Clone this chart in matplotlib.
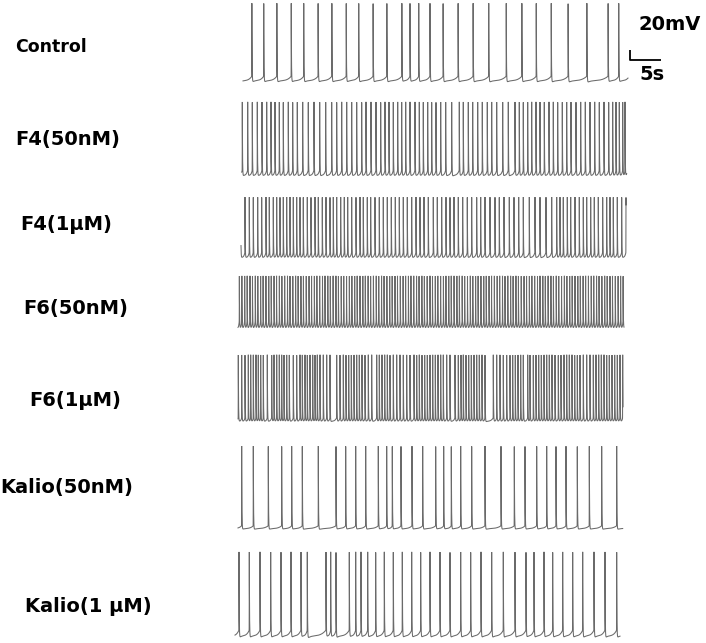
import numpy as np
import matplotlib
matplotlib.use("Agg")
import matplotlib.pyplot as plt

# ---------------- data (spike times in seconds) ----------------
labels = ["Control", "F4(50nM)", "F4(1\u03bcM)", "F6(50nM)", "F6(1\u03bcM)",
          "Kalio(50nM)", "Kalio(1 \u03bcM)"]

spikes_control = [1.9, 3.8, 5.9, 8.2, 10.2, 12.5, 14.7, 17.0, 19.0, 21.3, 23.5, 25.9,
                  27.2, 28.6, 30.4, 32.5, 34.9, 37.3, 39.8, 42.6, 45.1, 47.4, 49.8,
                  52.5, 55.5, 58.9, 60.6]

spikes_f4_50 = [0.37, 1.23, 1.97, 2.77, 3.52, 4.27, 4.96, 5.6, 6.29, 6.93, 7.73, 8.43,
                9.17, 10.03, 10.93, 11.84, 12.75, 13.71, 14.67, 15.47, 16.27, 17.07,
                17.87, 18.67, 19.47, 20.16, 20.96, 21.76, 22.51, 23.2, 23.84, 24.53,
                25.23, 25.87, 26.51, 27.2, 28.0, 28.69, 29.33, 30.03, 30.67, 31.36,
                32.11, 32.91, 33.87, 35.09, 35.73, 36.53, 37.23, 38.03, 38.77, 39.57,
                40.27, 41.07, 42.03, 42.93, 44.0, 44.69, 45.33, 46.03, 46.67, 47.36,
                48.0, 48.69, 49.44, 50.13, 50.83, 51.57, 52.27, 52.96, 53.76, 54.51,
                55.25, 56.0, 56.75, 57.49, 58.24, 58.99, 59.63, 60.16, 60.69, 61.23,
                61.6]

spikes_f4_1 = [0.80, 1.49, 2.13, 2.83, 3.47, 4.16, 4.69, 5.33, 5.87, 6.40, 6.93, 7.47,
               8.0, 8.53, 9.07, 9.6, 10.13, 10.77, 11.36, 12.0, 12.53, 13.17, 13.76,
               14.4, 14.93, 15.47, 16.11, 16.69, 17.23, 17.87, 18.56, 19.2, 19.73,
               20.37, 20.91, 21.6, 22.29, 22.93, 23.57, 24.21, 24.85, 25.49, 26.13,
               26.77, 27.47, 28.16, 28.8, 29.44, 30.13, 30.93, 31.57, 32.27, 32.96,
               33.6, 34.24, 34.93, 35.63, 36.37, 37.07, 37.87, 38.51, 39.2, 40.0,
               40.8, 41.49, 42.24, 43.09, 43.84, 44.59, 45.33, 46.29, 47.2, 48.0,
               48.96, 49.87, 50.67, 51.2, 51.73, 52.37, 52.91, 53.6, 54.29, 54.93,
               55.47, 56.11, 56.69, 57.33, 58.03, 58.67, 59.2, 59.73, 60.37, 61.07,
               61.76]

spikes_f6_50 = [-0.1, 0.3, 0.75, 1.15, 1.6, 2.0, 2.45, 2.85, 3.3, 3.7, 4.15, 4.6, 5.0,
                5.45, 5.85, 6.3, 6.7, 7.15, 7.6, 8.0, 8.45, 8.9, 9.3, 9.75, 10.15,
                10.6, 11.05, 11.45, 11.9, 12.3, 12.75, 13.2, 13.6, 14.05, 14.45, 14.9,
                15.35, 15.75, 16.2, 16.6, 17.05, 17.5, 17.9, 18.35, 18.75, 19.2, 19.65,
                20.05, 20.5, 20.9, 21.35, 21.8, 22.2, 22.65, 23.05, 23.5, 23.95, 24.35,
                24.8, 25.2, 25.65, 26.1, 26.5, 26.95, 27.35, 27.8, 28.25, 28.65, 29.1,
                29.5, 29.95, 30.4, 30.8, 31.25, 31.65, 32.1, 32.55, 32.95, 33.4, 33.8,
                34.25, 34.7, 35.1, 35.55, 35.95, 36.4, 36.85, 37.25, 37.7, 38.1, 38.55,
                39.0, 39.4, 39.85, 40.25, 40.7, 41.15, 41.55, 42.0, 42.4, 42.85, 43.3,
                43.7, 44.15, 44.55, 45.0, 45.45, 45.85, 46.3, 46.7, 47.15, 47.6, 48.0,
                48.45, 48.85, 49.3, 49.75, 50.15, 50.6, 51.0, 51.45, 51.9, 52.3, 52.75,
                53.15, 53.6, 54.05, 54.45, 54.9, 55.3, 55.75, 56.2, 56.6, 57.05, 57.45,
                57.9, 58.35, 58.75, 59.2, 59.6, 60.05, 60.5, 60.9, 61.3]

spikes_f6_1 = [-0.27, 0.27, 0.80, 1.33, 1.71, 2.13, 2.56, 2.93, 3.31, 3.73, 4.37, 5.07,
               5.44, 5.87, 6.29, 6.67, 7.04, 7.47, 7.89, 8.53, 9.07, 9.6, 9.97, 10.4,
               10.77, 11.2, 11.63, 12.0, 12.37, 12.8, 13.33, 13.87, 14.4, 15.47, 16.0,
               16.53, 16.96, 17.39, 17.81, 18.24, 18.67, 19.09, 19.52, 20.0, 20.53,
               21.07, 21.87, 22.29, 22.72, 23.15, 23.57, 24.0, 24.53, 25.07, 25.6,
               26.13, 26.67, 27.2, 27.84, 28.27, 28.69, 29.12, 29.55, 29.97, 30.4,
               30.83, 31.25, 31.68, 32.11, 32.53, 33.07, 33.6, 34.4, 34.93, 35.36,
               35.73, 36.16, 36.59, 37.01, 37.44, 37.87, 38.29, 38.72, 39.2, 40.53,
               41.07, 41.6, 42.13, 42.67, 43.2, 43.63, 44.05, 44.48, 44.91, 45.33,
               46.03, 46.4, 46.93, 47.36, 47.79, 48.21, 48.64, 49.07, 49.49, 49.92,
               50.4, 50.93, 51.36, 51.84, 52.27, 52.69, 53.12, 53.55, 53.97, 54.4,
               54.93, 55.47, 56.0, 56.53, 56.96, 57.39, 57.81, 58.24, 58.67, 59.09,
               59.52, 59.95, 60.37, 60.8, 61.23]

spikes_k_50 = [0.27, 2.13, 4.53, 6.67, 8.27, 9.97, 12.53, 15.36, 16.91, 18.51, 20.11,
               22.13, 23.47, 24.37, 25.76, 27.52, 29.23, 31.31, 32.59, 33.81, 35.31,
               37.07, 39.2, 41.76, 43.89, 45.6, 47.47, 49.07, 50.56, 52.16, 53.97,
               55.89, 57.87, 60.27]

spikes_k_1 = [-0.16, 1.49, 3.2, 4.91, 6.56, 8.16, 9.76, 10.77, 13.76, 14.51, 15.36,
              17.49, 18.51, 19.36, 20.43, 21.71, 23.09, 24.53, 25.97, 27.47, 28.91,
              30.4, 32.0, 33.6, 35.31, 36.91, 38.56, 40.27, 42.13, 44.0, 45.76, 47.04,
              48.64, 50.03, 51.63, 53.23, 54.83, 56.64, 58.4, 60.27]

all_spikes = [spikes_control, spikes_f4_50, spikes_f4_1, spikes_f6_50, spikes_f6_1,
              spikes_k_50, spikes_k_1]

# sweep start / end (s)
sweep_start = [0.48, 0.27, 0.16, -0.32, -0.32, -0.32, -0.8]
sweep_end = [62.08, 61.87, 61.76, 61.44, 61.28, 61.23, 60.8]
# spike peak and pre-spike foot, mV above the after-hyperpolarisation trough
peak_mv = [152, 145, 120, 107, 130, 160, 166]
foot_mv = [13, 15, 15, 23, 10, 8, 17]

# ---------------- layout ----------------
W, H = 706, 643
PX_PER_S = 6.25
PX_PER_MV = 0.525
X0_PX = 240
trough_px = [83, 178, 260, 332, 423, 530, 639]
label_pos = [(15, 47, 12.5), (15, 139, 14), (20, 224, 14), (23, 309, 14),
             (29, 401, 14), (0, 488, 14), (25, 607, 14)]

fig = plt.figure(figsize=(W / 100, H / 100), dpi=100)
ax = fig.add_axes([0, 0, 1, 1])
ax.set_xlim(-X0_PX / PX_PER_S, (W - X0_PX) / PX_PER_S)
ax.set_ylim(0, H / PX_PER_MV)
ax.axis("off")


def waveform(spk, t0, t1, foot, peak, n=60000):
    spk = np.asarray(spk, float)
    t = np.linspace(t0, t1, n)
    isi0 = spk[1] - spk[0]
    isi1 = spk[-1] - spk[-2]
    ext = np.concatenate([[spk[0] - isi0], spk, [spk[-1] + isi1]])
    idx = np.searchsorted(ext, t, side="right")
    idx = np.clip(idx, 1, len(ext) - 1)
    prev = ext[idx - 1]
    nxt = ext[idx]
    p = np.clip((t - prev) / (nxt - prev), 0, 1)
    v = foot * (0.35 * (1 - np.exp(-8 * p)) + 0.65 * p ** 4)
    dtp = t - prev
    dtn = t - nxt
    shape = np.where(dtp >= 0, np.exp(-np.abs(dtp) / 0.035), 0) + np.exp(-(dtn / 0.012) ** 2)
    v = v + (peak - foot) * np.clip(shape, 0, 1)
    return t, v


for i, spk in enumerate(all_spikes):
    t, v = waveform(spk, sweep_start[i], sweep_end[i], foot_mv[i], peak_mv[i])
    base = (H - trough_px[i]) / PX_PER_MV
    ax.plot(t, v + base, color="#6a6a6a", lw=0.75, solid_joinstyle="miter")
    lx, ly, fs = label_pos[i]
    fig.text(lx / W, 1 - ly / H, labels[i], fontsize=fs, fontweight="bold",
             family="DejaVu Sans", ha="left", va="center", color="black")

# scale bar: 20 mV / 5 s
sb_x = (630 - X0_PX) / PX_PER_S
sb_y = (H - 60) / PX_PER_MV
ax.plot([sb_x, sb_x, sb_x + 5], [sb_y + 20, sb_y, sb_y], color="black", lw=1.3,
        solid_capstyle="butt")
fig.text(638 / W, 1 - 25 / H, "20mV", fontsize=14, fontweight="bold",
         family="DejaVu Sans", ha="left", va="center")
fig.text(639 / W, 1 - 74 / H, "5s", fontsize=14, fontweight="bold",
         family="DejaVu Sans", ha="left", va="center")

fig.savefig("out.png", dpi=100, facecolor="white")
